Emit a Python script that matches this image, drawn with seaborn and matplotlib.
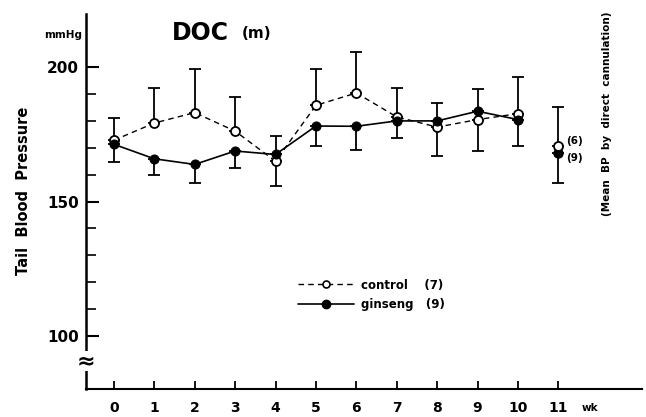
import numpy as np
import pandas as pd
import matplotlib
matplotlib.use("Agg")
import matplotlib.pyplot as plt
from matplotlib.lines import Line2D
import seaborn as sns

# weeks 0-10 are joined by lines, week 11 is the separate cannulation value
weeks = list(range(11))
control_mean = [172.8, 179.2, 183.1, 176.2, 165.0, 185.8, 190.4, 181.5, 177.7, 180.5, 182.7]
control_err_up = [8.3, 13.1, 16.4, 12.7, 0, 13.7, 15.3, 10.8, 0, 0, 13.5]
control_err_down = [0, 0, 0, 0, 9.4, 0, 0, 0, 10.9, 11.8, 0]
ginseng_mean = [171.3, 165.9, 163.8, 168.8, 167.5, 178.1, 178.0, 180.0, 180.0, 183.6, 180.5]
ginseng_err_up = [0, 0, 0, 0, 6.8, 0, 0, 0, 6.5, 8.1, 0]
ginseng_err_down = [6.6, 6.2, 6.8, 6.4, 0, 7.5, 9.0, 6.2, 0, 0, 9.9]

direct_week = 11
control_direct = 170.6
control_direct_err = 14.4
ginseng_direct = 167.9
ginseng_direct_err = 11.1

df = pd.DataFrame({
    'week': weeks * 2,
    'bp': control_mean + ginseng_mean,
    'group': ['control'] * 11 + ['ginseng'] * 11,
})

sns.set_style("ticks")
plt.rcParams['font.family'] = ['DejaVu Sans']
plt.rcParams['font.weight'] = 'bold'
plt.rcParams['text.color'] = 'black'
plt.rcParams['axes.edgecolor'] = 'black'
plt.rcParams['xtick.color'] = 'black'
plt.rcParams['ytick.color'] = 'black'

fig = plt.figure(figsize=(6.46, 4.17), dpi=100)
ax = fig.add_axes([86 / 646, 1 - 389 / 417, (642 - 86) / 646, (389 - 14) / 417])

# error bars first so the markers sit on top
eb = dict(fmt='none', ecolor='black', elinewidth=1.3, capsize=4, capthick=1.3, zorder=2)
ax.errorbar(weeks, control_mean, yerr=[control_err_down, control_err_up], **eb)
ax.errorbar(weeks, ginseng_mean, yerr=[ginseng_err_down, ginseng_err_up], **eb)
ax.errorbar([direct_week], [control_direct], yerr=[[0], [control_direct_err]], **eb)
ax.errorbar([direct_week], [ginseng_direct], yerr=[[ginseng_direct_err], [0]], **eb)

sns.lineplot(data=df[df.group == 'control'], x='week', y='bp', ax=ax, color='black',
             linestyle=(0, (4, 3)), lw=1.0, marker='o', markersize=6.5,
             markerfacecolor='white', markeredgecolor='black', markeredgewidth=1.3, zorder=3)
sns.lineplot(data=df[df.group == 'ginseng'], x='week', y='bp', ax=ax, color='black',
             lw=1.2, marker='o', markersize=6.5, markerfacecolor='black',
             markeredgecolor='black', zorder=4)

ax.plot([direct_week], [ginseng_direct], 'o', ms=6.5, color='black', zorder=4)
ax.plot([direct_week], [control_direct], 'o', ms=6.5, mfc='white', mec='black', mew=1.3, zorder=5)
ax.text(direct_week + 0.2, control_direct + 1.8, '(6)', fontsize=7.5, fontweight='bold', va='center')
ax.text(direct_week + 0.2, ginseng_direct - 1.6, '(9)', fontsize=7.5, fontweight='bold', va='center')

ax.set_xlim(-0.69, 13.07)
ax.set_ylim(80.2, 219.8)
ax.set_xticks(range(12))
ax.set_yticks([100, 150, 200])
ax.set_yticks(range(100, 201, 10), minor=True)
ax.tick_params(axis='y', which='major', direction='in', length=9, width=1.5, labelsize=11, pad=5)
ax.tick_params(axis='y', which='minor', direction='in', length=7, width=1.2)
ax.tick_params(axis='x', direction='in', length=6, width=1.3, labelsize=10, pad=9)
for lab in ax.get_xticklabels() + ax.get_yticklabels():
    lab.set_fontweight('bold')
ax.set_xlabel('')
ax.set_ylabel('')
sns.despine(ax=ax)
ax.spines['left'].set_linewidth(1.8)
ax.spines['bottom'].set_linewidth(1.5)

# axis break
ax.text(0, 90.5, '≈', transform=ax.get_yaxis_transform(), fontsize=16,
        ha='center', va='center', zorder=6,
        bbox=dict(boxstyle='square,pad=0.0', fc='white', ec='none'))

handles = [
    Line2D([], [], color='black', linestyle=(0, (4, 3)), lw=1.0, marker='o', ms=5,
           mfc='white', mec='black', mew=1.2),
    Line2D([], [], color='black', lw=1.2, marker='o', ms=6, mfc='black'),
]
ax.legend(handles, ['control    (7)', 'ginseng   (9)'], loc='upper left',
          bbox_to_anchor=((287 - 86) / 556, 1 - (268 - 14) / 375), frameon=False,
          handlelength=4.8, handletextpad=0.6, labelspacing=0.55,
          prop={'size': 8.5, 'weight': 'bold'})

fig.text(24 / 646, 1 - 191 / 417, 'Tail  Blood  Pressure', rotation=90, ha='center', va='center',
         fontsize=10.5, fontweight='bold')
fig.text(82 / 646, 1 - 35 / 417, 'mmHg', ha='right', va='center', fontsize=7.5, fontweight='bold')
fig.text(172 / 646, 1 - 33 / 417, 'DOC', ha='left', va='center', fontsize=17, fontweight='bold')
fig.text(242 / 646, 1 - 34 / 417, '(m)', ha='left', va='center', fontsize=11, fontweight='bold')
fig.text(607 / 646, 1 - 114 / 417, '(Mean  BP  by  direct  cannulation)', rotation=90,
         ha='center', va='center', fontsize=7.5, fontweight='bold')
fig.text(590 / 646, 1 - 408 / 417, 'wk', ha='center', va='center', fontsize=7.5, fontweight='bold')

fig.savefig('out.png', dpi=100)
